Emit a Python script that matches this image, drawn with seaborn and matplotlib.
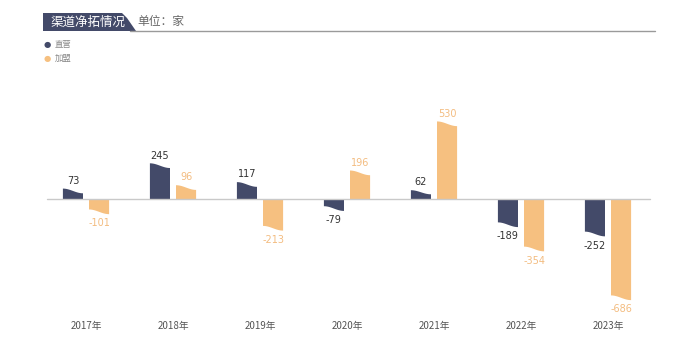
import numpy as np
import pandas as pd
import matplotlib
matplotlib.use("Agg")
import matplotlib.pyplot as plt
import seaborn as sns
from matplotlib.path import Path
from matplotlib.patches import PathPatch, Polygon
from matplotlib.lines import Line2D

years = ["2017年", "2018年", "2019年", "2020年", "2021年", "2022年", "2023年"]
direct = [73, 245, 117, -79, 62, -189, -252]
franchise = [-101, 96, -213, 196, 530, -354, -686]
series_names = ["直营", "加盟"]
colors = {"直营": "#434a69", "加盟": "#f6c080"}
label_colors = {"直营": "#333333", "加盟": "#f3bc80"}

df = pd.DataFrame({
    "year": years * 2,
    "value": direct + franchise,
    "type": [series_names[0]] * len(years) + [series_names[1]] * len(years),
})

sns.set_theme(style="white")
plt.rcParams["font.family"] = ["Noto Sans CJK SC", "DejaVu Sans"]

W, H = 692, 348
fig = plt.figure(figsize=(W / 100, H / 100), dpi=100)
ax = fig.add_axes([42.5 / W, (H - 311) / H, 609 / W, (311 - 70) / H])

sns.barplot(data=df, x="year", y="value", hue="type", order=years,
            hue_order=series_names, palette=colors, width=0.6, gap=0.23,
            saturation=1, legend=False, ax=ax)
ax.set_xlim(-0.5, 6.5)
ax.set_ylim(-760, 880)

# reshape bars into wavy "flag" shapes and label them
bars = [p for p in ax.patches]
vals = direct + franchise
names = [series_names[0]] * len(years) + [series_names[1]] * len(years)
for p, v, nm in zip(bars, vals, names):
    x0 = p.get_x()
    w = p.get_width()
    h = v
    fc = p.get_facecolor()
    p.remove()
    delta = min(32, 0.45 * abs(h))
    t = np.linspace(0, 1, 30)
    xs = x0 + w * t
    if h >= 0:
        ys = h - delta * (1 - np.cos(np.pi * t)) / 2
    else:
        ys = h + delta * (1 + np.cos(np.pi * t)) / 2
    verts = [(x0, 0)] + list(zip(xs, ys)) + [(x0 + w, 0), (x0, 0)]
    codes = [Path.MOVETO] + [Path.LINETO] * (len(verts) - 2) + [Path.CLOSEPOLY]
    ax.add_patch(PathPatch(Path(verts, codes), facecolor=fc, edgecolor="none", zorder=2))
    cx = x0 + w / 2
    if h >= 0:
        ax.annotate(f"{v}", (cx, h), xytext=(0, 2), textcoords="offset points",
                    ha="center", va="bottom", fontsize=7, color=label_colors[nm],
                    family="DejaVu Sans")
    else:
        ax.annotate(f"{v}", (cx, h), xytext=(0, -3), textcoords="offset points",
                    ha="center", va="top", fontsize=7, color=label_colors[nm],
                    family="DejaVu Sans")

ax.axhline(0, xmin=0.008, xmax=0.998, color="#c9c9c9", lw=1, zorder=3)
for s in ax.spines.values():
    s.set_visible(False)
ax.set_yticks([])
ax.set_xlabel("")
ax.set_ylabel("")
ax.tick_params(axis="x", length=0, labelsize=7, colors="#555555", pad=7)

# header: title box, unit, rule line
def fx(px):
    return px / W

def fy(py):
    return (H - py) / H

box = Polygon([(fx(43), fy(13)), (fx(122), fy(13)), (fx(127), fy(18)),
               (fx(136), fy(31)), (fx(43), fy(31))], closed=True,
              transform=fig.transFigure, facecolor="#434a69", edgecolor="none")
fig.add_artist(box)
fig.add_artist(Line2D([fx(130), fx(655)], [fy(31), fy(31)],
                      transform=fig.transFigure, color="#9a9a9a", lw=1))
fig.text(fx(50), fy(22), "渠道净拓情况", color="white", fontsize=9,
         ha="left", va="center")
fig.text(fx(137), fy(21), "单位：家", color="#666666", fontsize=8.5,
         ha="left", va="center")

# legend
fig.text(fx(44), fy(44), "●", color=colors["直营"], fontsize=6, ha="left",
         va="center", family="DejaVu Sans")
fig.text(fx(55), fy(44), "直营", color="#888888", fontsize=6, ha="left", va="center")
fig.text(fx(44), fy(58), "●", color=colors["加盟"], fontsize=6, ha="left",
         va="center", family="DejaVu Sans")
fig.text(fx(55), fy(58), "加盟", color="#888888", fontsize=6, ha="left", va="center")

fig.savefig("out.png", dpi=100)
